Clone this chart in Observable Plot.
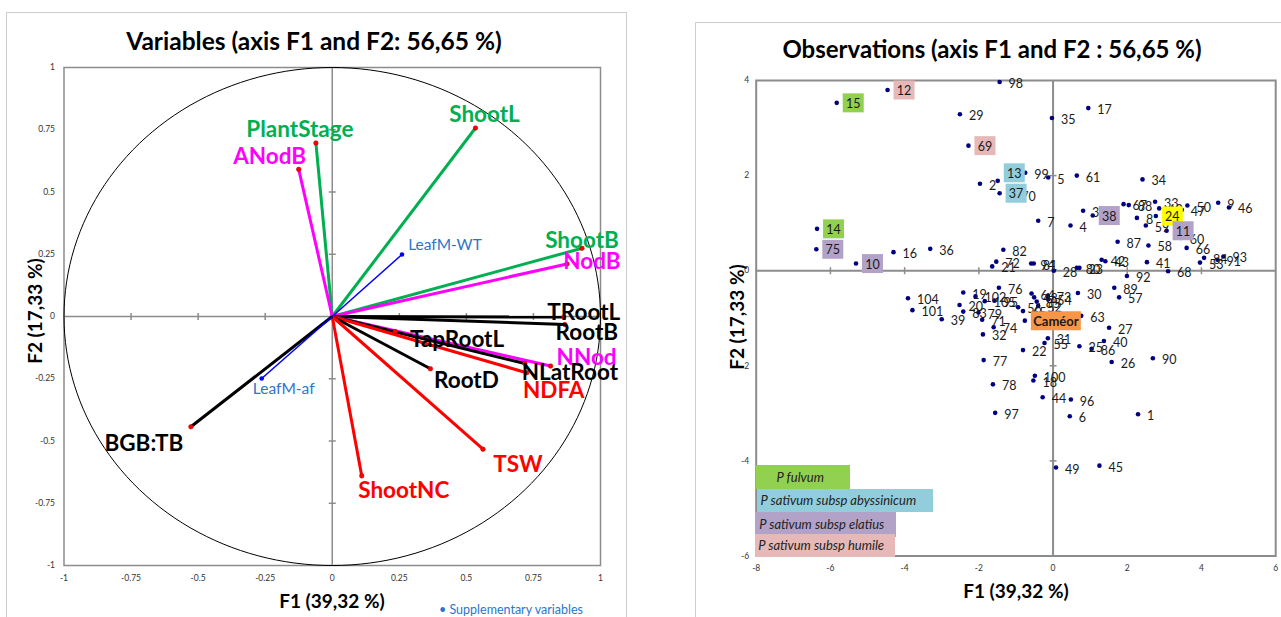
<!DOCTYPE html>
<html><head><meta charset="utf-8">
<script src="https://cdn.jsdelivr.net/npm/d3@7"></script>
<script src="https://cdn.jsdelivr.net/npm/@observablehq/plot@0.6"></script>
<style>
body{margin:0;background:#fff;font-family:Lato,"Open Sans",sans-serif;}
#root{position:relative;width:1281px;height:617px;overflow:hidden;background:#fff;}
.abs{position:absolute;white-space:nowrap;line-height:1;}
.panel{position:absolute;border:1.5px solid #cdcdcd;box-sizing:border-box;}
svg{position:absolute;top:0;}
</style></head><body><div id="root"></div>
<script>
// ---------- Variables (correlation circle) ----------
const varNames = ["ShootL","PlantStage","ANodB","ShootB","NodB","TRootL","RootB","TapRootL","NNod","NLatRoot","NDFA","RootD","TSW","ShootNC","BGB:TB","LeafM-WT","LeafM-af"];
const varF1 = [0.534,-0.061,-0.125,0.931,0.875,0.863,0.867,0.234,0.814,0.718,0.725,0.366,0.562,0.110,-0.527,0.260,-0.263];
const varF2 = [0.757,0.697,0.591,0.274,0.211,-0.002,-0.032,-0.060,-0.199,-0.189,-0.226,-0.210,-0.533,-0.640,-0.443,0.249,-0.249];
const varGroup = ["shoot","shoot","nodule","shoot","nodule","root","root","root","nodule","root","nitrogen","root","nitrogen","nitrogen","root","supplementary","supplementary"];
const varTicks = [-1,-0.75,-0.5,-0.25,0,0.25,0.5,0.75,1];

// ---------- Observations ----------
const obsLabel = ["98","12","15","29","35","17","69","13","99","5","61","34","2","37","70","7","4","3","38","67","88","33","62","8","24","59","50","47","9","46","11","60","87","58","66","84","93","53","91","41","68","92","42","43","28","80","23","94","81","82","72","21","14","75","10","16","36","104","101","39","19","102","20","83","79","71","74","32","76","105","95","56","65","Caméor","64","73","48","85","52","54","30","63","89","57","27","40","25","86","26","90","31","55","22","77","78","97","100","18","44","96","6","1","49","45"];
const obsF1 = [-1.44,-4.46,-5.83,-2.51,-0.03,0.95,-2.28,-1.49,-0.75,-0.13,0.64,2.41,-1.97,-1.44,-1.10,-0.40,0.47,0.81,1.07,1.90,2.04,2.75,2.86,2.26,2.77,2.50,3.62,3.47,4.45,4.74,3.06,3.44,1.74,2.57,3.60,4.07,4.59,3.96,4.43,2.53,3.10,1.99,1.31,1.41,0.02,0.64,0.71,-0.59,-0.52,-1.34,-1.53,-1.64,-6.36,-6.38,-5.31,-4.30,-3.31,-3.91,-3.79,-3.00,-2.42,-2.09,-2.52,-2.42,-2.01,-1.91,-1.60,-1.89,-1.46,-1.84,-1.58,-0.94,-0.81,-0.76,-0.58,-0.14,-0.51,-0.44,-0.40,-0.13,0.67,0.76,1.65,1.78,1.51,1.37,0.71,1.04,1.58,2.69,-0.14,-0.23,-0.81,-1.87,-1.62,-1.56,-0.49,-0.53,-0.28,0.48,0.45,2.29,0.08,1.25];
const obsF2 = [3.97,3.80,3.53,3.29,3.21,3.42,2.63,1.89,2.06,1.96,2.00,1.92,1.83,1.63,1.60,1.05,0.95,1.26,1.16,1.40,1.38,1.45,1.31,1.11,1.15,0.95,1.37,1.28,1.43,1.33,0.84,0.69,0.61,0.53,0.48,0.27,0.30,0.17,0.23,0.18,-0.01,-0.11,0.23,0.20,0.00,0.06,0.06,0.15,0.15,0.44,0.19,0.09,0.88,0.45,0.15,0.39,0.46,-0.58,-0.83,-1.02,-0.46,-0.54,-0.72,-0.86,-0.88,-1.03,-1.19,-1.34,-0.36,-0.64,-0.63,-0.77,-0.85,-1.05,-0.48,-0.53,-0.56,-0.65,-0.74,-0.60,-0.47,-0.95,-0.36,-0.56,-1.20,-1.48,-1.59,-1.64,-1.92,-1.84,-1.42,-1.52,-1.67,-1.88,-2.39,-2.99,-2.21,-2.31,-2.66,-2.71,-3.06,-3.02,-4.14,-4.10];
const obsGroup = {"15":"fulvum","14":"fulvum","13":"abyssinicum","37":"abyssinicum","38":"elatius","11":"elatius","75":"elatius","10":"elatius","12":"humile","69":"humile","24":"highlight","Caméor":"cultivar"};
const obsTicksX = [-8,-6,-4,-2,0,2,4,6];
const obsTicksY = [-6,-4,-2,0,2,4];
const legendGroups = ["fulvum","abyssinicum","elatius","humile"];
const legendNames = ["P fulvum","P sativum subsp abyssinicum","P sativum subsp elatius","P sativum subsp humile"];

// ---------- styles ----------
const groupColor = {shoot:"#00b050", nodule:"#ff00ff", root:"#000000", nitrogen:"#ff0000", supplementary:"#0000ff"};
const labelColor = {shoot:"#00b050", nodule:"#ff00ff", root:"#000000", nitrogen:"#ff0000", supplementary:"#2e75c8"};
const boxColor = {fulvum:"#92d050", abyssinicum:"#92cddc", elatius:"#b3a2c7", humile:"#e6b9b8", highlight:"#ffff00", cultivar:"#f79646"};
const varLabelOffset = {"ShootL":[9,-13],"PlantStage":[-16,-13],"ANodB":[-29,-13],"ShootB":[0,-7],"NodB":[25,-2],"TRootL":[20,-4],"RootB":[22,8],"TapRootL":[62,8],"NNod":[36,-8],"NLatRoot":[45,9],"NDFA":[27,18],"RootD":[36,12],"TSW":[35,16],"ShootNC":[42,15],"BGB:TB":[-47,17],"LeafM-WT":[43,-9],"LeafM-af":[22,11]};
const boxShift = {"13":-8};
const gray = "#8c8c8c";
const FONT = "Lato, 'Open Sans', sans-serif";

const vTick = {draw(ctx){ctx.moveTo(0,-3.5);ctx.lineTo(0,3.5);}};
const hTick = {draw(ctx){ctx.moveTo(-3.5,0);ctx.lineTo(3.5,0);}};
const rectSym = (w,h) => ({draw(ctx){ctx.rect(-w/2,-h/2,w,h);}});

const vars = varNames.map((name,i)=>({name, f1:varF1[i], f2:varF2[i], group:varGroup[i]}));
const obs = obsLabel.map((label,i)=>({label, f1:obsF1[i], f2:obsF2[i], group:obsGroup[label]||null}));
const circle = d3.range(0,361,2).map(a=>[Math.cos(a*Math.PI/180), Math.sin(a*Math.PI/180)]);

const root = document.getElementById("root");
function addDiv(text, css){const d=document.createElement("div");d.className="abs";d.textContent=text;Object.assign(d.style,css);root.appendChild(d);return d;}
function addPanel(css){const d=document.createElement("div");d.className="panel";Object.assign(d.style,css);root.appendChild(d);}

addPanel({left:"6px",top:"12px",width:"621px",height:"640px"});
addPanel({left:"695px",top:"22px",width:"640px",height:"640px"});

// ---------- Left plot ----------
const main = vars.filter(d=>d.group!=="supplementary");
const supp = vars.filter(d=>d.group==="supplementary");
const leftPlot = Plot.plot({
  width:650, height:617,
  marginLeft:63.5, marginRight:50, marginTop:67, marginBottom:52,
  x:{domain:[-1,1], ticks:varTicks, tickFormat:d=>String(d), tickSize:0, tickPadding:9, label:null},
  y:{domain:[-1,1], ticks:varTicks, tickFormat:d=>String(d), tickSize:0, tickPadding:9, label:null},
  color:{type:"identity"},
  style:{fontFamily:FONT, fontSize:"8.5px", color:"#333", background:"transparent", overflow:"visible"},
  marks:[
    Plot.frame({stroke:gray, strokeWidth:1.5}),
    Plot.ruleX([0],{stroke:gray, strokeWidth:1.5}),
    Plot.ruleY([0],{stroke:gray, strokeWidth:1.5}),
    Plot.dot(varTicks.filter(t=>t!==0&&Math.abs(t)!==1),{x:d=>d, y:0, symbol:vTick, stroke:gray, strokeWidth:1.5, fill:"none"}),
    Plot.dot(varTicks.filter(t=>t!==0&&Math.abs(t)!==1),{x:0, y:d=>d, symbol:hTick, stroke:gray, strokeWidth:1.5, fill:"none"}),
    Plot.line(circle,{x:d=>d[0], y:d=>d[1], stroke:"#000", strokeWidth:1}),
    Plot.link(main,{x1:0, y1:0, x2:"f1", y2:"f2", stroke:d=>groupColor[d.group], strokeWidth:3}),
    Plot.link(supp,{x1:0, y1:0, x2:"f1", y2:"f2", stroke:d=>groupColor[d.group], strokeWidth:1.5}),
    Plot.dot(main,{x:"f1", y:"f2", r:2.3, fill:"#ff0000", stroke:"#a00000", strokeWidth:0.5}),
    Plot.dot(supp,{x:"f1", y:"f2", r:2.3, fill:"#0000ff"}),
    ...vars.map(d=>Plot.text([d],{x:"f1", y:"f2", text:"name", fill:labelColor[d.group],
      fontSize: d.group==="supplementary"?15.5:22.5, fontWeight: d.group==="supplementary"?"normal":"bold",
      fontFamily:FONT, textAnchor:"middle", dx:varLabelOffset[d.name][0], dy:varLabelOffset[d.name][1]}))
  ]
});
leftPlot.style.left="0px";
root.appendChild(leftPlot);

// ---------- Right plot ----------
const plain = obs.filter(d=>!d.group);
const boxed = obs.filter(d=>d.group && d.group!=="cultivar");
const cult = obs.filter(d=>d.group==="cultivar");
const rightPlot = Plot.plot({
  width:631, height:617,
  marginLeft:105.7, marginRight:5.8, marginTop:80, marginBottom:61.5,
  x:{domain:[-8,6], ticks:obsTicksX, tickFormat:d=>String(d), tickSize:0, tickPadding:9, label:null},
  y:{domain:[-6,4], ticks:obsTicksY, tickFormat:d=>String(d), tickSize:0, tickPadding:7, label:null},
  color:{type:"identity"},
  style:{fontFamily:FONT, fontSize:"8.5px", color:"#333", background:"transparent", overflow:"visible"},
  marks:[
    Plot.frame({stroke:gray, strokeWidth:2}),
    Plot.ruleX([0],{stroke:gray, strokeWidth:2}),
    Plot.ruleY([0],{stroke:gray, strokeWidth:2}),
    Plot.dot(obsTicksX.filter(t=>t!==0&&t!==-8&&t!==6),{x:d=>d, y:0, symbol:vTick, stroke:gray, strokeWidth:1.5, fill:"none"}),
    Plot.dot(obsTicksY.filter(t=>t!==0&&t!==-6&&t!==4),{x:0, y:d=>d, symbol:hTick, stroke:gray, strokeWidth:1.5, fill:"none"}),
    Plot.dot(obs,{x:"f1", y:"f2", r:2.3, fill:"#000080"}),
    Plot.text(plain,{x:"f1", y:"f2", text:"label", textAnchor:"start", dx:9, dy:2, fontSize:12.5, fill:"#1a1a1a", fontFamily:FONT}),
    ...boxed.map(d=>Plot.dot([d],{x:"f1", y:"f2", symbol:rectSym(21,19), fill:boxColor[d.group], stroke:"none", dx:16.5, dy:(boxShift[d.label]||0)})),
    ...boxed.map(d=>Plot.text([d],{x:"f1", y:"f2", text:"label", textAnchor:"middle", dx:16.5, dy:1+(boxShift[d.label]||0), fontSize:12.5, fill:"#1a1a1a", fontFamily:FONT})),
    Plot.dot(cult,{x:"f1", y:"f2", symbol:rectSym(50,19), fill:boxColor.cultivar, stroke:"none", dx:31}),
    Plot.text(cult,{x:"f1", y:"f2", text:"label", textAnchor:"middle", dx:31, dy:1, fontSize:13, fontWeight:"bold", fill:"#1a1a1a", fontFamily:FONT})
  ]
});
rightPlot.style.left="650px";
root.appendChild(rightPlot);

// ---------- titles & axis labels ----------
const center = {transform:"translate(-50%,-50%)"};
addDiv("Variables (axis F1 and F2: 56,65 %)",{...center,left:"314px",top:"41px",fontSize:"24.5px",fontWeight:"bold",color:"#000"});
addDiv("Observations (axis F1 and F2 : 56,65 %)",{...center,left:"992px",top:"49px",fontSize:"24px",fontWeight:"bold",color:"#000"});
addDiv("F1 (39,32 %)",{...center,left:"332px",top:"600px",fontSize:"19px",fontWeight:"bold"});
addDiv("F1 (39,32 %)",{...center,left:"1016px",top:"590px",fontSize:"19px",fontWeight:"bold"});
addDiv("F2 (17,33 %)",{transform:"translate(-50%,-50%) rotate(-90deg)",left:"34px",top:"311px",fontSize:"19px",fontWeight:"bold"});
addDiv("F2 (17,33 %)",{transform:"translate(-50%,-50%) rotate(-90deg)",left:"736px",top:"317px",fontSize:"19px",fontWeight:"bold"});
addDiv("\u2022 Supplementary variables",{left:"439px",top:"604px",fontSize:"12.5px",color:"#2e75c8"});

// legend of taxa
const legendBoxes = [[755.6,465,94.4,24.3,21],[756.6,489.3,176,22.4,4],[755.2,511.7,140.5,25,4],[755.2,534.3,139.5,22.4,3]];
legendGroups.forEach((g,i)=>{
  const [l,t,w,h,p]=legendBoxes[i];
  addDiv(legendNames[i],{left:l+"px",top:t+"px",width:w+"px",height:h+"px",background:boxColor[g],fontStyle:"italic",fontSize:"13px",color:"#222",paddingLeft:p+"px",boxSizing:"border-box",display:"flex",alignItems:"center"});
});
</script></body></html>
